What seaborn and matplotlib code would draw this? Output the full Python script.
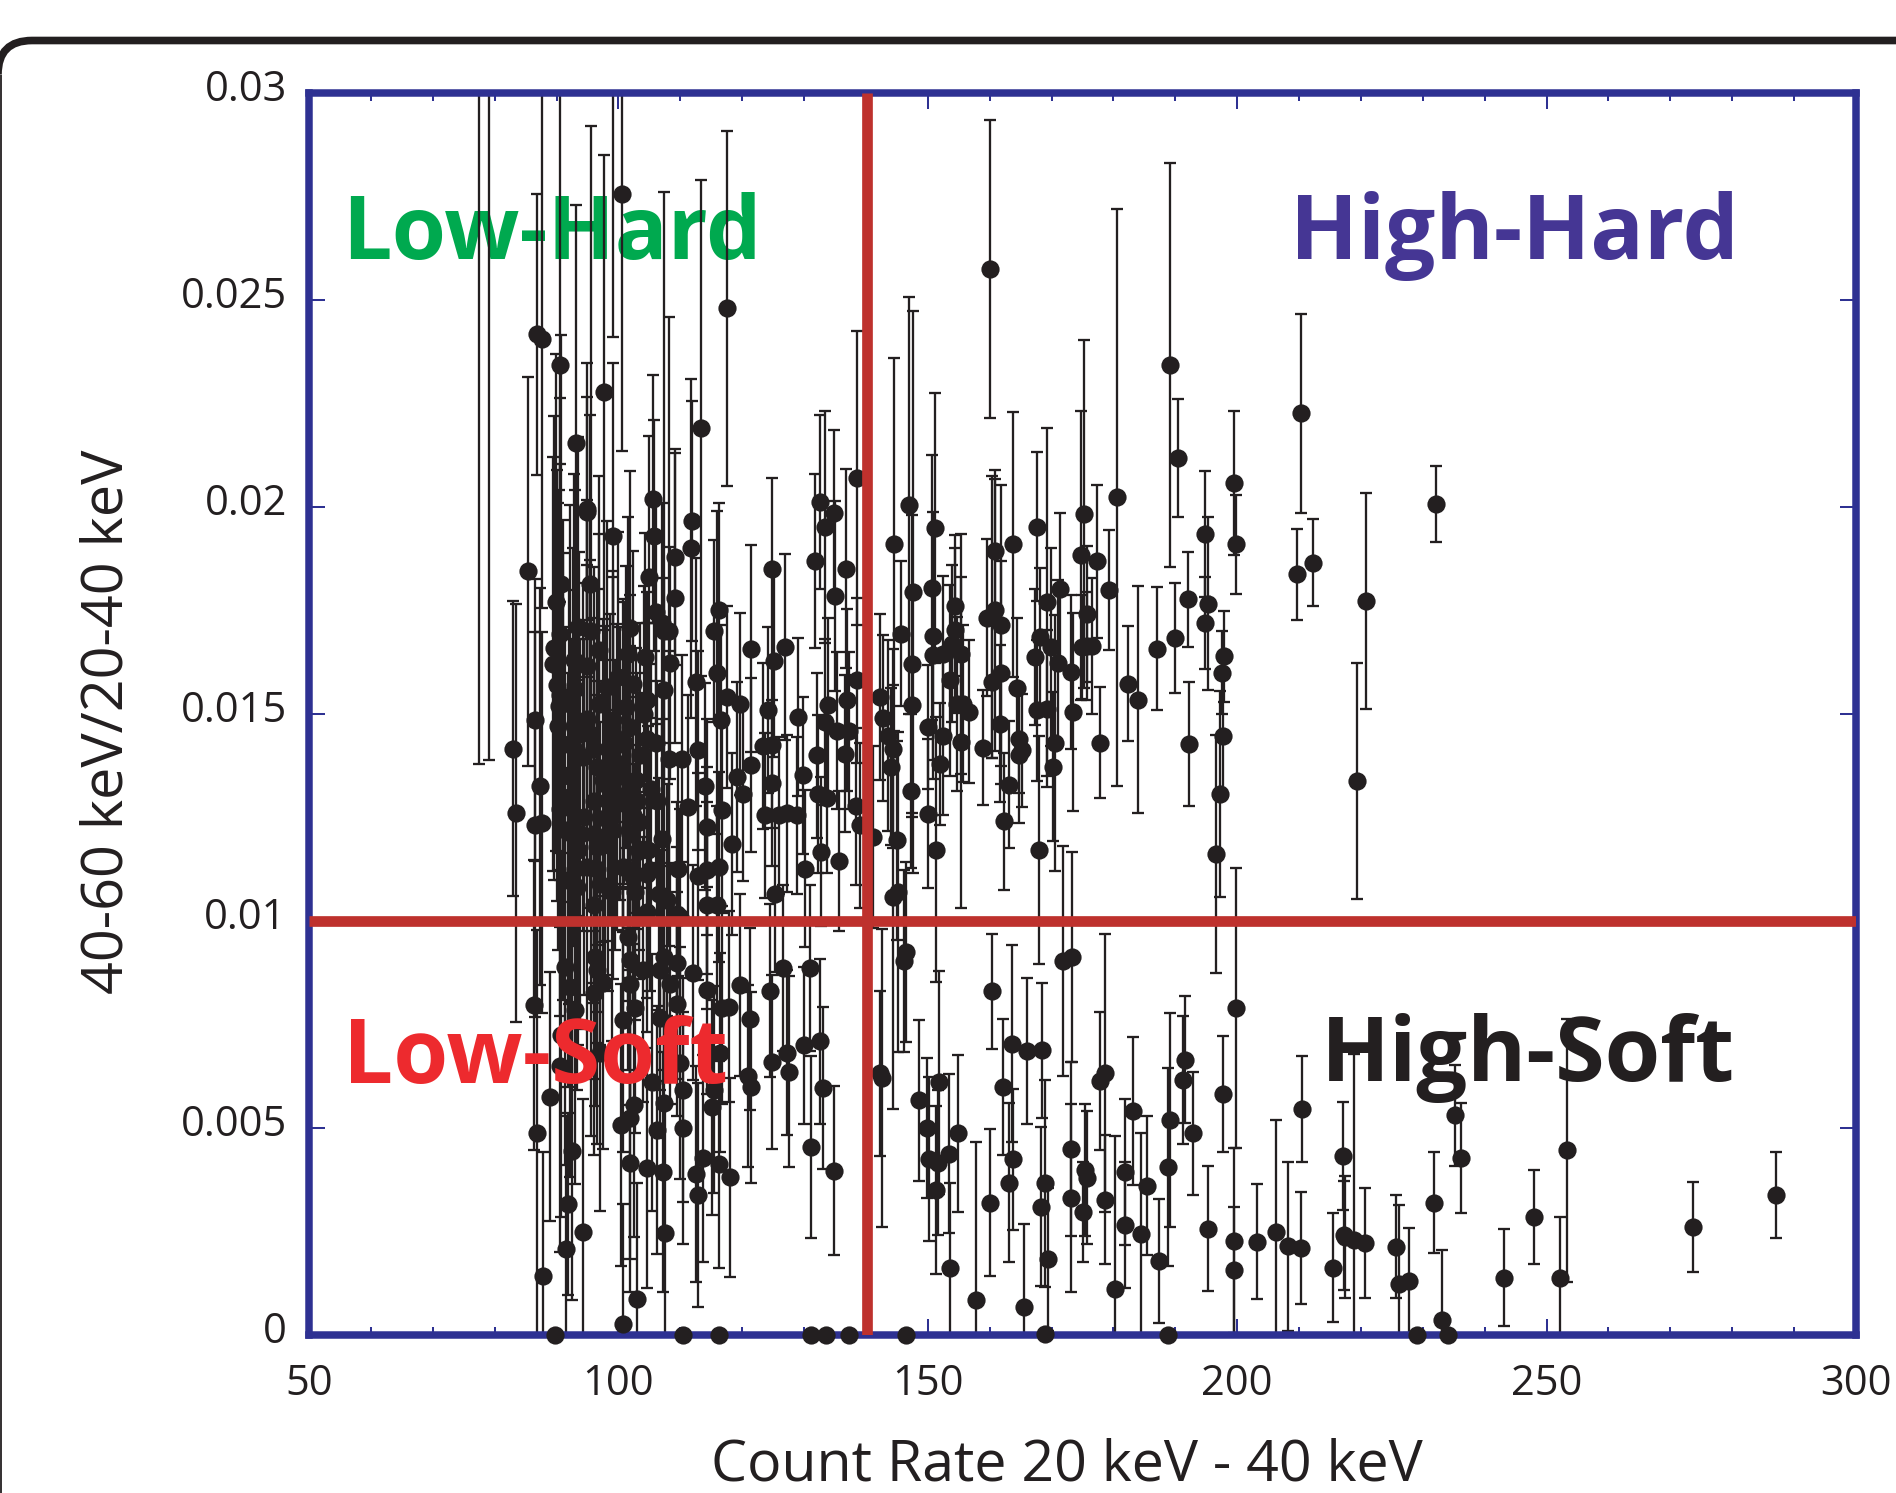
import matplotlib
matplotlib.use("Agg")
import matplotlib.pyplot as plt
import numpy as np
import pandas as pd
import seaborn as sns
from matplotlib.lines import Line2D
from matplotlib.patches import PathPatch
from matplotlib.path import Path
from matplotlib.ticker import FixedLocator, MultipleLocator
from matplotlib.transforms import ScaledTranslation

# ratios and errors are written in units of 0.001
low_hard_rate = [
    77.5, 79.1, 99.2, 86.8, 87.6, 90.6, 93.2, 97.6, 95.0, 95.6,
    100.6, 105.6, 113.4, 117.6, 107.3, 108.1, 109.1, 111.8, 116.3, 124.8,
    132.5, 134.9, 133.4, 138.5, 85.4, 83.0, 83.4, 86.5, 87.4, 86.5,
    87.6, 90.6, 95.0, 99.2, 111.9, 105.7, 109.2, 105.0, 89.9, 95.4,
    93.4, 101.9, 106.1, 107.0, 115.4, 121.4, 125.1, 126.9, 131.7, 136.8,
    135.0, 112.6, 115.9, 108.3, 107.3, 104.7, 96.8, 104.3, 101.6, 89.5,
    90.0, 94.9, 100.0, 92.2, 94.9, 96.8, 99.2, 101.9, 104.6, 91.1,
    96.0, 100.3, 108.1, 110.2, 112.8, 116.5, 117.5, 119.7, 124.1, 129.0,
    133.8, 136.9, 133.4, 135.3, 137.2, 138.6, 123.4, 124.8, 121.5, 119.1,
    129.9, 124.8, 114.0, 120.2, 132.3, 133.7, 132.1, 136.7, 138.4, 139.0,
    100.8, 111.2, 116.7, 123.7, 125.9, 127.3, 128.8, 102.4, 114.3, 99.2,
    93.8, 107.0, 118.3, 104.8, 93.5, 132.7, 135.7, 93.0, 96.5, 101.6,
    105.1, 109.6, 112.9, 116.3, 114.3, 130.2, 93.3, 98.9, 102.7, 106.6,
    96.0, 114.3, 115.9, 125.3, 104.6, 110.0, 89.6, 90.4, 91.0, 92.0,
    92.6, 91.4, 93.0, 97.5, 98.4, 100.9, 102.8, 103.4, 90.2, 91.8,
    90.6, 93.6, 94.2, 95.4, 96.5, 96.0, 96.0, 99.2, 100.8, 99.7,
    101.3, 102.4, 98.1, 98.7, 94.9, 97.0, 102.4, 100.8, 104.6, 109.4,
    101.9, 101.9, 96.5, 92.5, 90.6, 90.8, 92.9, 97.8, 94.4, 107.8,
    103.5, 105.2, 103.0, 104.2, 99.5, 106.2, 106.0, 97.8, 103.4,
]
low_hard_ratio = [
    31.0, 31.2, 34.0, 24.17, 24.07, 23.43, 21.55, 22.77, 19.96, 17.0,
    27.55, 20.2, 21.91, 24.8, 17.0, 17.0, 17.8, 19.0, 17.5, 18.51,
    20.12, 19.85, 19.52, 20.7, 18.45, 14.16, 12.6, 14.85, 13.25, 12.33,
    12.37, 12.71, 19.88, 19.29, 19.66, 19.31, 18.79, 18.31, 17.7, 18.13,
    17.1, 17.08, 17.46, 17.2, 17.0, 16.58, 16.27, 16.62, 18.69, 18.51,
    17.85, 15.77, 16.0, 16.24, 15.59, 15.34, 16.54, 16.38, 16.45, 16.21,
    15.69, 16.17, 15.89, 15.25, 14.89, 15.25, 14.85, 14.68, 14.39, 14.28,
    14.16, 13.8, 13.92, 13.92, 14.12, 14.85, 15.41, 15.25, 15.09, 14.93,
    15.21, 15.33, 14.81, 14.6, 14.6, 15.81, 14.22, 14.24, 13.76, 13.48,
    13.52, 13.33, 13.25, 13.07, 13.07, 12.97, 14.0, 14.04, 12.77, 12.31,
    13.03, 12.75, 12.67, 12.55, 12.55, 12.6, 12.55, 12.55, 12.27, 12.19,
    12.1, 11.99, 11.87, 11.71, 11.71, 11.67, 11.45, 11.26, 11.26, 11.26,
    11.22, 11.26, 11.08, 11.3, 11.22, 11.26, 10.82, 10.7, 10.7, 10.66,
    10.38, 10.38, 10.38, 10.66, 10.22, 10.1, 16.6, 15.2, 13.5, 13.0,
    14.2, 12.2, 15.6, 13.4, 11.9, 14.3, 13.4, 12.4, 14.7, 11.0,
    15.45, 14.52, 13.96, 14.52, 13.72, 12.91, 12.11, 14.52, 14.28, 13.48,
    15.17, 15.73, 15.65, 13.72, 11.3, 10.9, 11.06, 11.3, 11.14, 10.18,
    12.11, 13.24, 11.79, 12.11, 16.94, 18.15, 16.3, 13.32, 12.51, 10.5,
    14.0, 13.2, 12.9, 15.0, 12.8, 12.9, 14.3, 12.5, 11.7,
]
low_hard_err = [
    17.2, 17.3, 9.9, 3.39, 6.5, 7.5, 5.74, 5.73, 2.7, 12.2,
    6.2, 3.0, 6.0, 4.29, 10.6, 7.6, 3.5, 4.1, 2.6, 2.2,
    2.1, 2.0, 2.8, 3.55, 4.7, 3.56, 5.05, 3.4, 4.8, 4.65,
    4.6, 5.0, 3.6, 4.2, 2.9, 2.8, 2.6, 3.4, 6.0, 4.1,
    4.6, 3.8, 2.7, 2.9, 2.2, 2.5, 2.3, 2.25, 2.1, 2.4,
    2.3, 3.0, 3.9, 2.8, 2.7, 2.6, 4.2, 3.0, 3.3, 5.0,
    5.2, 4.0, 3.5, 4.8, 3.7, 4.1, 3.6, 3.2, 2.8, 5.4,
    4.4, 3.3, 2.6, 2.5, 2.4, 2.3, 2.2, 2.2, 2.0, 1.9,
    2.1, 2.2, 2.0, 1.9, 1.9, 2.0, 2.0, 2.0, 2.1, 2.3,
    1.9, 2.0, 2.5, 2.1, 1.9, 1.8, 2.0, 1.9, 1.9, 2.0,
    3.3, 2.7, 2.3, 2.0, 1.9, 1.9, 1.9, 3.1, 2.6, 3.6,
    4.7, 2.9, 2.2, 3.0, 4.7, 1.8, 1.7, 5.0, 4.2, 3.2,
    2.9, 2.6, 2.5, 2.3, 2.5, 1.9, 4.9, 3.6, 3.1, 2.8,
    4.2, 2.5, 2.4, 1.9, 2.9, 2.6, 5.6, 5.2, 5.4, 5.0,
    4.8, 4.9, 4.8, 3.9, 3.6, 3.4, 3.2, 3.1, 5.4, 5.0,
    5.6, 4.4, 4.2, 4.2, 4.3, 4.4, 4.1, 3.8, 3.5, 3.7,
    3.4, 3.2, 4.0, 3.7, 4.6, 3.9, 3.2, 3.6, 3.0, 2.7,
    3.3, 3.4, 4.0, 4.7, 5.7, 6.0, 4.5, 3.8, 4.3, 2.8,
    3.2, 3.0, 3.1, 3.1, 3.5, 2.9, 2.9, 3.8, 3.1,
]

low_soft_rate = [
    86.4, 93.0, 96.0, 96.2, 101.9, 102.7, 100.8, 106.7, 106.7, 109.4,
    112.0, 114.3, 116.7, 117.9, 119.7, 121.3, 124.5, 126.6, 131.0, 90.8,
    90.6, 97.0, 89.0, 86.8, 105.5, 110.5, 110.0, 115.4, 116.4, 120.9,
    121.4, 124.9, 127.3, 127.5, 130.0, 132.5, 133.0, 131.1, 134.9, 102.5,
    107.3, 115.1, 100.5, 101.9, 106.3, 110.5, 92.5, 91.9, 87.8, 91.5,
    94.3, 101.9, 104.6, 107.2, 112.5, 113.7, 116.2, 118.0, 112.9, 107.6,
    103.0, 100.8, 101.6, 89.7, 110.5, 116.2, 131.1, 133.6, 137.3, 96.5,
    97.5, 91.4, 92.2, 101.9, 108.3, 109.4, 107.3, 104.0,
]
low_soft_ratio = [
    7.97, 7.85, 8.25, 9.14, 8.49, 7.89, 7.61, 8.82, 7.65, 8.0,
    8.75, 8.33, 7.89, 7.93, 8.45, 7.63, 8.32, 8.86, 8.86, 7.25,
    6.5, 6.8, 5.76, 4.89, 6.1, 5.92, 6.56, 5.92, 6.82, 6.26,
    5.98, 6.6, 6.82, 6.36, 7.0, 7.09, 5.97, 4.55, 3.97, 5.56,
    5.6, 5.5, 5.07, 5.23, 4.95, 5.0, 4.44, 3.16, 1.43, 2.08,
    2.5, 4.15, 4.03, 3.93, 3.89, 4.27, 4.13, 3.81, 3.38, 2.46,
    0.87, 0.27, 9.61, 0.0, 0.0, 0.0, 0.0, 0.0, 0.0, 8.82,
    8.5, 8.9, 8.41, 9.06, 8.49, 8.98, 9.14, 8.82,
]
low_soft_err = [
    3.5, 4.2, 3.9, 3.6, 3.3, 3.0, 3.2, 2.9, 2.9, 2.7,
    2.6, 2.5, 2.3, 2.3, 2.2, 2.2, 2.1, 2.0, 2.0, 4.4,
    4.5, 3.8, 3.0, 4.9, 3.1, 2.7, 2.8, 2.5, 2.4, 2.2,
    2.3, 2.1, 2.0, 2.3, 1.9, 2.0, 1.95, 2.2, 2.04, 3.2,
    3.1, 2.6, 3.4, 3.4, 3.0, 2.8, 3.6, 2.2, 3.0, 3.2,
    3.2, 3.1, 2.9, 2.9, 2.6, 2.5, 2.5, 2.4, 2.7, 3.0,
    2.8, 2.9, 3.2, 0.0, 0.0, 0.0, 0.0, 0.0, 0.0, 4.2,
    4.0, 4.8, 4.6, 3.5, 2.9, 2.8, 3.0, 3.2,
]

high_hard_rate = [
    144.6, 146.9, 147.6, 151.2, 150.6, 145.6, 147.5, 147.5, 150.9, 150.9,
    147.3, 150.1, 150.1, 151.3, 151.9, 152.5, 152.5, 154.4, 154.4, 153.6,
    153.9, 155.4, 155.4, 155.7, 156.6, 154.7, 159.5, 160.9, 163.7, 160.9,
    161.9, 160.3, 160.3, 161.9, 159.0, 161.7, 163.2, 162.3, 164.4, 164.7,
    165.2, 164.8, 167.7, 169.2, 171.3, 167.3, 168.1, 167.7, 167.9, 169.2,
    169.9, 171.1, 170.6, 170.3, 173.1, 173.4, 175.3, 174.7, 177.4, 180.5,
    175.8, 174.9, 176.5, 175.7, 179.3, 177.9, 182.3, 184.0, 187.0, 190.0,
    192.1, 192.2, 194.8, 195.3, 194.8, 199.5, 199.8, 189.2, 190.5, 210.3,
    160.1, 209.6, 212.3, 197.9, 197.5, 197.7, 197.3, 196.5, 220.8, 219.3,
    232.1, 142.2, 142.7, 143.5, 144.3, 144.0, 145.1, 144.4, 145.2, 141.2,
]
high_hard_ratio = [
    19.1, 20.04, 17.95, 19.5, 18.05, 16.94, 16.21, 15.21, 16.88, 16.43,
    13.14, 14.68, 12.59, 11.72, 13.8, 16.44, 14.46, 17.62, 17.02, 15.81,
    16.7, 16.44, 14.32, 15.25, 15.06, 15.25, 17.33, 18.94, 19.1, 17.5,
    17.14, 17.34, 15.77, 16.0, 14.19, 14.77, 13.29, 12.41, 15.63, 14.4,
    14.12, 14.0, 19.52, 17.7, 18.01, 16.38, 16.86, 15.09, 11.72, 15.13,
    16.62, 16.23, 14.3, 13.73, 16.01, 15.05, 19.84, 18.83, 18.69, 20.23,
    17.41, 16.62, 16.64, 16.64, 18.0, 14.31, 15.73, 15.35, 16.58, 16.83,
    17.77, 14.28, 17.2, 17.66, 19.35, 20.58, 19.1, 23.43, 21.19, 22.26,
    25.75, 18.37, 18.65, 16.39, 16.0, 14.47, 13.07, 11.62, 17.74, 13.37,
    20.07, 15.41, 14.91, 14.48, 14.16, 13.73, 11.95, 10.58, 10.7, 12.03,
]
high_hard_err = [
    4.5, 5.04, 6.79, 3.26, 3.2, 1.75, 3.6, 2.7, 3.0, 3.0,
    1.85, 1.5, 1.8, 3.2, 1.47, 1.9, 1.9, 1.7, 2.0, 2.3,
    1.9, 2.9, 4.0, 1.9, 1.73, 2.1, 1.9, 1.74, 3.2, 3.4,
    3.4, 3.4, 1.83, 2.7, 1.38, 1.9, 1.53, 1.65, 1.7, 1.3,
    1.37, 1.63, 1.8, 4.2, 1.85, 1.65, 1.67, 1.7, 2.76, 1.9,
    2.4, 2.0, 3.1, 1.79, 1.86, 2.4, 4.2, 3.5, 1.85, 6.98,
    1.64, 1.25, 1.64, 1.3, 1.45, 1.34, 1.39, 2.75, 1.49, 1.33,
    1.15, 1.5, 1.12, 2.09, 1.53, 1.75, 1.2, 4.87, 1.42, 2.41,
    3.6, 1.09, 1.05, 1.1, 1.0, 1.48, 2.49, 2.87, 2.61, 2.85,
    0.92, 2.0, 2.0, 2.3, 2.4, 1.9, 2.4, 5.13, 3.86, 2.2,
]

high_soft_rate = [
    142.3, 142.6, 146.5, 146.2, 148.5, 149.9, 151.8, 150.2, 151.6, 151.4,
    153.4, 154.8, 153.6, 146.5, 160.3, 163.6, 162.2, 166.1, 168.5, 163.8,
    163.1, 160.0, 157.8, 165.5, 169.0, 168.3, 169.5, 169.0, 173.1, 173.1,
    171.9, 173.3, 175.4, 175.7, 175.1, 178.7, 178.6, 177.9, 180.3, 181.9,
    181.9, 183.2, 184.4, 185.5, 187.4, 189.2, 188.8, 188.8, 191.6, 191.2,
    192.8, 195.3, 197.7, 199.8, 199.5, 199.5, 203.2, 206.3, 208.2, 210.3,
    210.4, 215.5, 217.1, 217.3, 217.4, 218.9, 220.6, 225.6, 226.2, 227.8,
    231.8, 229.1, 233.1, 234.0, 235.2, 236.1, 243.1, 248.0, 252.1, 253.3,
    273.6, 287.1,
]
high_soft_ratio = [
    6.32, 6.2, 9.25, 9.03, 5.67, 5.0, 6.1, 4.26, 4.16, 3.51,
    4.38, 4.87, 1.63, 0.0, 8.3, 7.04, 5.99, 6.86, 6.88, 4.24,
    3.68, 3.2, 0.84, 0.68, 3.66, 3.1, 1.83, 0.03, 4.5, 3.31,
    9.04, 9.13, 3.98, 3.8, 2.97, 3.27, 6.33, 6.14, 1.11, 3.94,
    2.65, 5.41, 2.45, 3.61, 1.78, 5.19, 4.06, 0.0, 6.65, 6.16,
    4.87, 2.57, 5.83, 7.9, 2.27, 1.57, 2.25, 2.49, 2.14, 2.1,
    5.45, 1.63, 4.33, 2.41, 2.37, 2.29, 2.23, 2.13, 1.24, 1.31,
    3.2, 0.0, 0.36, 0.0, 5.31, 4.28, 1.38, 2.85, 1.38, 4.46,
    2.61, 3.38,
]
high_soft_err = [
    2.0, 3.6, 2.17, 2.19, 1.95, 1.68, 2.7, 1.98, 1.75, 2.03,
    1.92, 1.9, 2.05, 0.0, 1.38, 2.38, 1.65, 1.77, 1.63, 1.71,
    1.92, 1.77, 3.81, 2.0, 2.5, 1.92, 1.73, 0.0, 2.1, 2.26,
    2.78, 2.54, 1.6, 1.6, 1.21, 1.56, 3.36, 1.66, 3.7, 1.76,
    1.52, 1.78, 2.42, 1.68, 1.5, 2.58, 2.4, 0.0, 1.53, 1.55,
    1.48, 1.51, 1.4, 3.38, 2.24, 1.53, 1.39, 2.71, 2.05, 1.35,
    1.28, 1.31, 1.31, 1.32, 1.47, 4.5, 1.33, 1.24, 1.9, 1.27,
    1.21, 0.0, 1.69, 0.0, 1.22, 1.33, 1.17, 1.13, 1.47, 3.17,
    1.09, 1.03,
]

region_labels = ["Low-Hard", "High-Hard", "Low-Soft", "High-Soft"]
region_colors = ["#00A94F", "#453694", "#ED2A2E", "#231F20"]
x_ticks = [50, 100, 150, 200, 250, 300]
y_ticks = [0, 0.005, 0.01, 0.015, 0.02, 0.025, 0.03]
y_tick_labels = ["0", "0.005", "0.01", "0.015", "0.02", "0.025", "0.03"]
rate_boundary = 140.17
ratio_boundary = 0.00999

W, H = 1896, 1493
BLUE, RED, INK = "#2E3192", "#BE312D", "#231F20"
FONT = ["Open Sans", "DejaVu Sans"]

sns.set_theme(style="white")
plt.rcParams["font.family"] = FONT
plt.rcParams["text.color"] = INK

rate = low_hard_rate + low_soft_rate + high_hard_rate + high_soft_rate
ratio = low_hard_ratio + low_soft_ratio + high_hard_ratio + high_soft_ratio
err = low_hard_err + low_soft_err + high_hard_err + high_soft_err
df = pd.DataFrame({"rate": rate, "ratio": np.array(ratio) / 1000, "err": np.array(err) / 1000})

fig = plt.figure(figsize=(W / 100, H / 100), dpi=100, facecolor="white")
ax = fig.add_axes([309 / W, (H - 1335) / H, (1856 - 309) / W, (1335 - 93) / H])
ax.set_xlim(50, 300)
ax.set_ylim(0, 0.03)

ax.errorbar(df["rate"], df["ratio"], yerr=df["err"], fmt="none", ecolor=INK,
            elinewidth=1.65, capsize=4.4, capthick=1.65, zorder=2)
sns.scatterplot(data=df[df["ratio"] <= 0.03], x="rate", y="ratio", s=172, color=INK,
                linewidth=0, clip_on=False, legend=False, zorder=3, ax=ax)

ax.axvline(rate_boundary, color=RED, lw=7.7, zorder=4, solid_capstyle="butt")
ax.axhline(ratio_boundary, color=RED, lw=7.7, zorder=4, solid_capstyle="butt")

label_x = [55.4, 208.6, 55.5, 213.6]
label_y = [0.02598, 0.0260, 0.00609, 0.00613]
label_z = [1, 1, 5, 5]
label_size = [63.2, 64, 64, 64.8]
for txt, col, lx, ly, lz, ls in zip(region_labels, region_colors, label_x, label_y, label_z, label_size):
    ax.text(lx, ly, txt, color=col, fontsize=ls, fontweight="bold", ha="left", va="baseline", zorder=lz)

for s in ax.spines.values():
    s.set_visible(True)
    s.set_color(BLUE)
    s.set_linewidth(5.4)
ax.xaxis.set_major_locator(FixedLocator(x_ticks))
ax.xaxis.set_minor_locator(MultipleLocator(10))
ax.set_yticks(y_ticks)
ax.set_yticklabels(y_tick_labels)
ax.tick_params(axis="both", which="major", direction="in", length=11.5, width=1.45, color=BLUE,
               top=True, bottom=True, left=True, right=True, labelsize=30, labelcolor=INK)
ax.tick_params(axis="x", which="major", pad=20)
ax.tick_params(axis="y", which="major", pad=16)
ax.tick_params(axis="x", which="minor", direction="in", length=5.8, width=1.45, color=BLUE,
               top=True, bottom=True)
ax.set_xlabel("")
ax.set_ylabel("")
shift = ScaledTranslation(0, 8 / 100, fig.dpi_scale_trans)
for lab in ax.get_yticklabels():
    lab.set_transform(lab.get_transform() + shift)

fig.text(1067 / W, 1 - 1466 / H, "Count Rate 20 keV - 40 keV", fontsize=41.2, ha="center", va="center")
fig.text(108 / W, 1 - 722 / H, "40-60 keV/20-40 keV", fontsize=41.4, rotation=90, ha="center", va="center")

# rounded panel outline: corner and top run off the image, the left edge shows as a thin sliver
top_in = H / 100 - 0.405
verts = [(-0.02, top_in - 0.34), (-0.02, top_in), (0.32, top_in), (H / 100 + 6, top_in)]
codes = [Path.MOVETO, Path.CURVE3, Path.CURVE3, Path.LINETO]
frame = PathPatch(Path(verts, codes), transform=fig.dpi_scale_trans, facecolor="none",
                  edgecolor=INK, linewidth=5.5, capstyle="butt")
fig.add_artist(frame)
fig.add_artist(Line2D([0.008, 0.008], [0, top_in - 0.34], transform=fig.dpi_scale_trans,
                      color=INK, linewidth=1.3, solid_capstyle="butt"))

fig.savefig("out.png", dpi=100, facecolor="white")
